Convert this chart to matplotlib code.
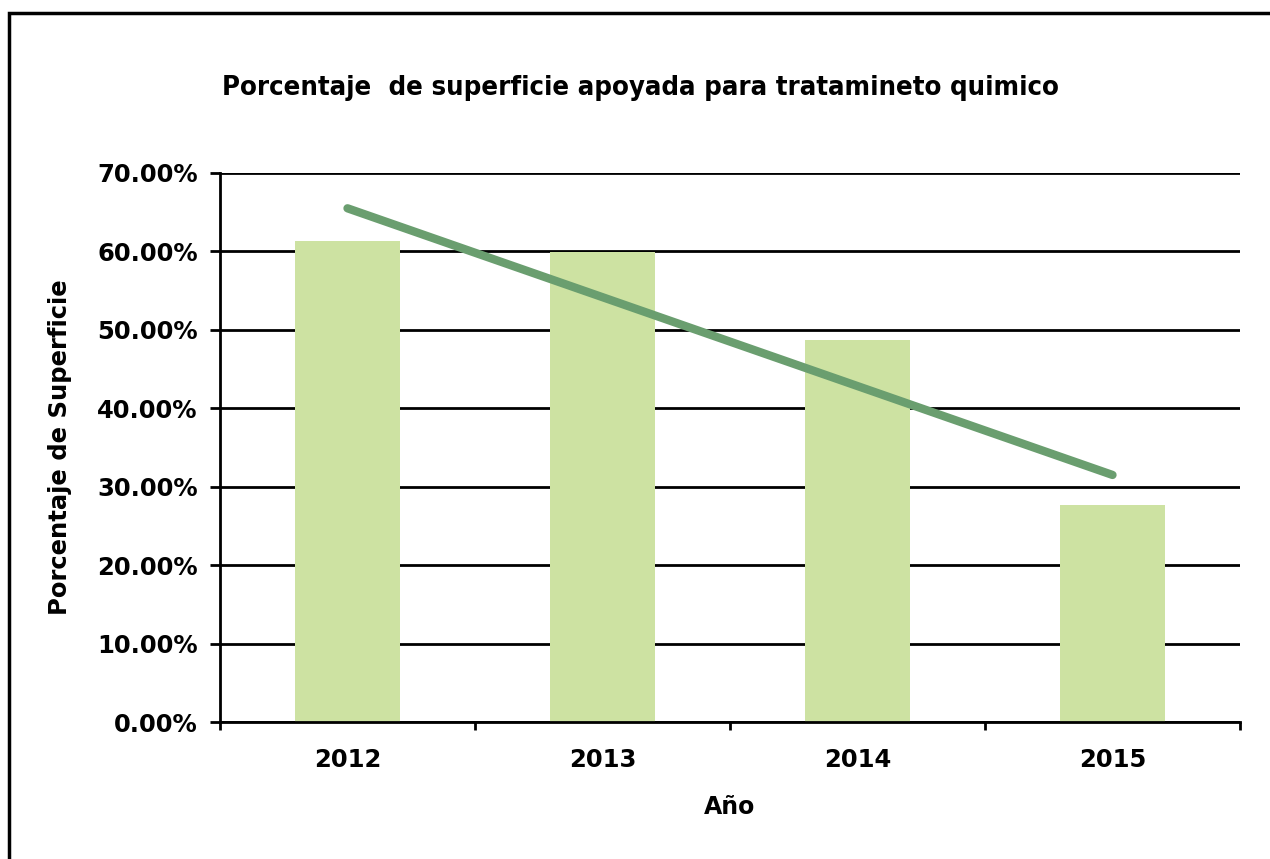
import numpy as np
import matplotlib
matplotlib.use("Agg")
import matplotlib.pyplot as plt
from matplotlib.patches import Rectangle
from matplotlib.ticker import FuncFormatter, MultipleLocator

# --- Data ---------------------------------------------------------------------
years = ["2012", "2013", "2014", "2015"]
pct = [61.3, 59.9, 48.7, 27.7]      # porcentaje de superficie apoyada
trend_ends = [65.5, 31.5]           # linea de tendencia (2012 -> 2015)

bar_color = "#cde2a2"
trend_color = "#6a9e6f"

plt.rcParams["font.family"] = ["DejaVu Sans"]

fig = plt.figure(figsize=(12.7, 8.59), dpi=100)
W, H = 1270, 859

# outer chart frame (runs off the right and bottom edges)
fig.patches.append(Rectangle((9 / W, -0.05), 1.1, 1 - 13 / H + 0.05,
                             transform=fig.transFigure, fill=False,
                             edgecolor="black", lw=2.5, zorder=0))

ax = fig.add_axes([220 / W, 1 - 722 / H, (1240 - 220) / W, (722 - 173) / H])

x = np.arange(len(years))
ax.bar(x, pct, width=0.41, color=bar_color, zorder=2)
ax.plot([x[0], x[-1]], trend_ends, color=trend_color, lw=6,
        solid_capstyle="round", zorder=3)

ax.set_xlim(-0.5, len(years) - 0.5)
ax.set_ylim(0, 70)
ax.yaxis.set_major_locator(MultipleLocator(10))
ax.yaxis.set_major_formatter(FuncFormatter(lambda v, p: f"{v:.2f}%"))
ax.grid(axis="y", color="black", lw=2, zorder=1)
ax.set_axisbelow(True)

ax.set_xticks(x)
ax.set_xticklabels(years)
ax.set_xticks(np.arange(len(years) + 1) - 0.5, minor=True)
ax.tick_params(axis="x", which="major", length=0, pad=19)
ax.tick_params(axis="x", which="minor", length=6, width=2)
ax.tick_params(axis="y", length=7, width=2, pad=9)
for lab in ax.get_xticklabels() + ax.get_yticklabels():
    lab.set_fontsize(17.5)
    lab.set_fontweight("bold")

for side in ["top", "right"]:
    ax.spines[side].set_visible(False)
for side in ["left", "bottom"]:
    ax.spines[side].set_linewidth(2)

ax.set_xlabel("Año", fontsize=17, fontweight="bold", labelpad=16)
ax.set_ylabel("Porcentaje de Superficie", fontsize=17.5, fontweight="bold", labelpad=18)

fig.text(222 / W, 1 - 88 / H, "Porcentaje  de superficie apoyada para tratamineto quimico",
         fontsize=19.7, fontweight="bold", fontstretch="condensed",
         ha="left", va="center")

fig.savefig("out.png", dpi=100, facecolor="white")
